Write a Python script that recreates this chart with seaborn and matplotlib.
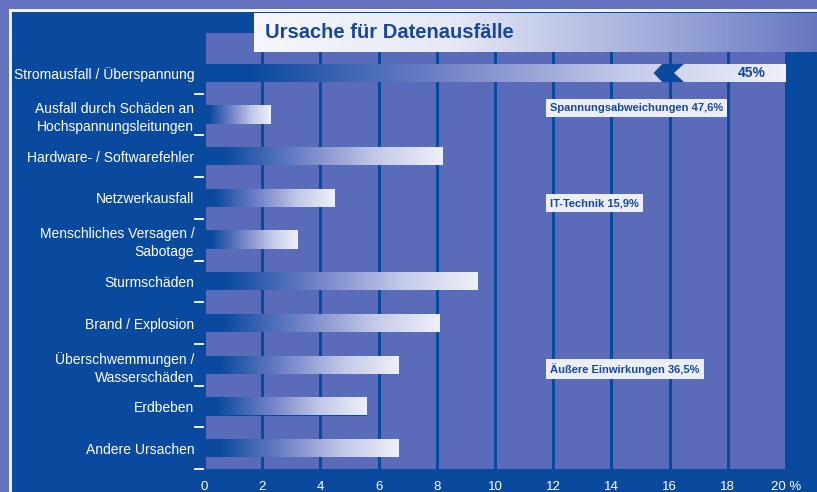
import numpy as np
import pandas as pd
import seaborn as sns
import matplotlib.pyplot as plt
from matplotlib.colors import LinearSegmentedColormap
from matplotlib.patches import Rectangle, Polygon

# data
categories = [
    "Stromausfall / Überspannung",
    "Ausfall durch Schäden an\nHochspannungsleitungen",
    "Hardware- / Softwarefehler",
    "Netzwerkausfall",
    "Menschliches Versagen /\nSabotage",
    "Sturmschäden",
    "Brand / Explosion",
    "Überschwemmungen /\nWasserschäden",
    "Erdbeben",
    "Andere Ursachen",
]
values = [45, 2.3, 8.2, 4.5, 3.2, 9.4, 8.1, 6.7, 5.6, 6.7]
first_bar_label = "45%"
group_labels = ["Spannungsabweichungen 47,6%", "IT-Technik 15,9%", "Äußere Einwirkungen 36,5%"]
group_rows = [1, 3, 7]
x_ticks = [0, 2, 4, 6, 8, 10, 12, 14, 16, 18, 20]
x_ticklabels = ["0", "2", "4", "6", "8", "10", "12", "14", "16", "18", "20 %"]
title = "Ursache für Datenausfälle"

DARK = "#0a4a9e"
PLOT_BG = "#5a6cb9"
FRAME = "#6373bd"
TEXT_BLUE = "#17479c"

sns.set_theme(style="white")
plt.rcParams["font.family"] = ["Liberation Sans", "DejaVu Sans"]

df = pd.DataFrame({"cause": categories, "value": values})

fig = plt.figure(figsize=(8.17, 4.92), dpi=100, facecolor=DARK)

# outer frame strips
fig.add_artist(Rectangle((0, 1 - 9 / 492), 1, 9 / 492, transform=fig.transFigure,
                         facecolor=FRAME, edgecolor="none", zorder=-2))
fig.add_artist(Rectangle((0, 0), 9 / 817, 1, transform=fig.transFigure,
                         facecolor=FRAME, edgecolor="none", zorder=-2))
fig.add_artist(Rectangle((9 / 817, 1 - 12 / 492), 1, 2.5 / 492, transform=fig.transFigure,
                         facecolor="#f2f3fa", edgecolor="none", zorder=-1))
fig.add_artist(Rectangle((9 / 817, 0), 2.5 / 817, 1 - 9.5 / 492, transform=fig.transFigure,
                         facecolor="#f2f3fa", edgecolor="none", zorder=-1))

ax = fig.add_axes([204 / 817, 23 / 492, 582 / 817, 436 / 492])
ax.set_facecolor(PLOT_BG)

sns.barplot(data=df, x="value", y="cause", orient="h", color=DARK,
            width=0.44, saturation=1, linewidth=0, edgecolor="none", ax=ax, zorder=2)

ax.set_xlim(0, 20)
ax.set_ylim(9.504, -0.96)

# gradient fill on each bar
bar_cmap = LinearSegmentedColormap.from_list(
    "bar", [(0, DARK), (0.08, DARK), (0.4, "#6f80c6"), (0.72, "#c3c9e8"), (1, "#eef0f8")])
grad = np.linspace(0, 1, 256)[None, :]
for p in ax.patches:
    x0, w = p.get_x(), p.get_width()
    y0, h = p.get_y(), p.get_height()
    x1 = min(x0 + w, 20)
    im = ax.imshow(grad, cmap=bar_cmap, extent=[x0, x1, y0 + h, y0],
                   aspect="auto", zorder=3, interpolation="bicubic")
    im.set_clip_path(p)

ax.set_xlim(0, 20)
ax.set_ylim(9.504, -0.96)

# break mark on the clipped first bar
p0 = ax.patches[0]
yt, yb = p0.get_y(), p0.get_y() + p0.get_height()
ym = (yt + yb) / 2
ax.add_patch(Polygon([(15.45, ym), (15.75, yt), (16.5, yt), (16.15, ym), (16.5, yb), (15.75, yb)],
                     closed=True, facecolor=DARK, edgecolor="none", zorder=4))
ax.text(19.3, ym, first_bar_label, ha="right", va="center", fontsize=10,
        fontweight="bold", color=TEXT_BLUE, zorder=5)

# group sums
offsets = [-0.16, 0.12, 0.1]
for lab, row, off in zip(group_labels, group_rows, offsets):
    ax.text(11.9, row + off, lab, ha="left", va="center", fontsize=8,
            fontweight="bold", color=TEXT_BLUE, zorder=5,
            bbox=dict(boxstyle="square,pad=0.35", facecolor="#eceef7", edgecolor="none"))

ax.set_xlabel("")
ax.set_ylabel("")
ax.set_xticks(x_ticks, x_ticklabels)
ax.set_yticks(range(len(categories)), categories)
ax.set_yticks(np.arange(0.5, len(categories), 1), minor=True)
ax.tick_params(axis="x", length=0, pad=9, labelcolor="white", labelsize=9.5)
ax.tick_params(axis="y", which="major", length=0, pad=7, labelcolor="white", labelsize=10)
ax.tick_params(axis="y", which="minor", length=7, width=1.3, color="white",
               direction="out", left=True)
for t in ax.get_yticklabels():
    t.set_linespacing(1.35)

ax.xaxis.grid(True, color=DARK, linewidth=2.2)
ax.yaxis.grid(False)
ax.set_axisbelow(True)
for s in ax.spines.values():
    s.set_visible(False)

# title banner
tax = fig.add_axes([254 / 817, (492 - 52) / 492, 563 / 817, 39 / 492])
title_cmap = LinearSegmentedColormap.from_list(
    "title", [(0, "#f6f7fc"), (0.35, "#e6e9f5"), (0.75, "#9aa6d8"), (1, "#6577c0")])
tax.imshow(grad, cmap=title_cmap, aspect="auto", extent=[0, 1, 0, 1])
tax.set_axis_off()
tax.text(0.02, 0.5, title, ha="left", va="center", fontsize=14.5,
         fontweight="bold", color=TEXT_BLUE)

fig.savefig("out.png", dpi=100, facecolor=DARK)
